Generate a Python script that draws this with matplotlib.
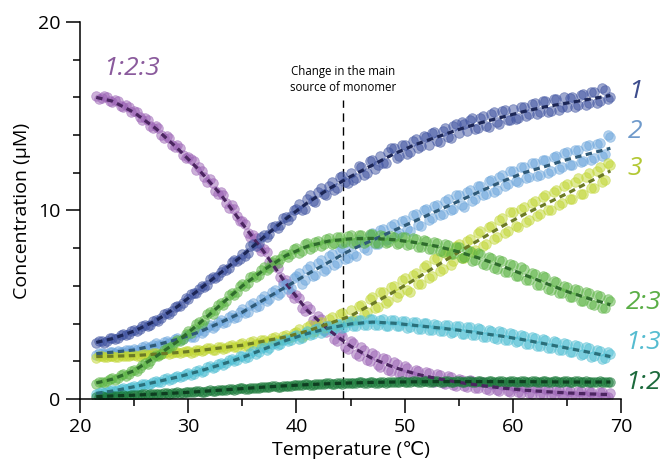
import numpy as np
import matplotlib.pyplot as plt

plt.rcParams['font.family'] = ['Open Sans', 'DejaVu Sans']

# measured temperatures (degC): two interleaved reading sets
temp_a = np.arange(21.5, 69.01, 0.5)
temp_b = np.arange(21.75, 68.8, 0.5)

conc_1a = [2.95, 3.1, 3.05, 3.25, 3.25, 3.45, 3.45,
           3.65, 3.7, 3.9, 3.95, 4.2, 4.3, 4.55, 4.65, 4.95, 5.1,
           5.3, 5.6, 5.85, 5.95, 6.35, 6.4, 6.75, 6.85, 7.25, 7.3,
           7.7, 7.75, 8.2, 8.3, 8.7, 8.75, 9.2, 9.25, 9.65, 9.7,
           10.1, 10.0, 10.6, 10.5, 11.0, 10.85, 11.3, 11.1, 11.75, 11.5,
           12.0, 11.7, 12.3, 12.0, 12.7, 12.4, 12.5, 13.1, 13.3, 12.9,
           13.5, 13.1, 13.8, 13.4, 13.9, 14.1, 13.7, 14.2, 13.9, 14.5,
           14.1, 14.6, 14.8, 14.3, 14.9, 14.5, 15.1, 14.7, 15.3, 14.8,
           15.4, 14.9, 15.5, 15.1, 15.7, 15.2, 15.8, 15.3, 15.9, 15.5,
           15.5, 16.0, 15.6, 16.2, 15.7, 16.3, 15.8, 16.4, 16.0]
conc_2a = [2.35, 2.45, 2.4, 2.5, 2.55, 2.5, 2.6,
           2.65, 2.6, 2.8, 2.75, 2.95, 2.85, 3.1, 3.0, 3.25, 3.2,
           3.4, 3.3, 3.65, 3.6, 3.9, 3.85, 4.2, 4.1, 4.45, 4.35,
           4.75, 4.6, 5.1, 4.95, 5.45, 5.3, 5.8, 5.6, 6.1, 5.9,
           6.5, 6.1, 6.9, 6.5, 7.2, 6.8, 7.6, 7.1, 7.9, 7.4,
           8.2, 7.6, 8.4, 7.9, 8.8, 8.2, 9.0, 8.5, 9.3, 8.8,
           9.5, 8.9, 9.8, 9.2, 10.1, 9.6, 10.3, 9.8, 10.6, 10.1,
           10.8, 10.2, 11.1, 10.6, 11.3, 10.9, 11.6, 11.1, 11.9, 11.4,
           12.1, 11.5, 12.3, 11.8, 12.5, 11.9, 12.7, 12.1, 12.9, 12.3,
           13.1, 12.4, 13.2, 12.6, 13.5, 12.8, 13.6, 13.0, 13.9]
conc_3a = [2.2, 2.3, 2.25, 2.3, 2.25, 2.3, 2.28,
           2.35, 2.3, 2.4, 2.35, 2.45, 2.4, 2.5, 2.42, 2.5, 2.48,
           2.55, 2.48, 2.62, 2.58, 2.7, 2.62, 2.78, 2.7, 2.85, 2.78,
           2.95, 2.8, 3.05, 2.95, 3.15, 3.05, 3.3, 3.15, 3.4, 3.3,
           3.55, 3.3, 3.8, 3.55, 4.0, 3.75, 4.25, 3.9, 4.5, 4.1,
           4.7, 4.2, 5.0, 4.6, 5.4, 4.9, 5.7, 5.2, 6.0, 5.6,
           6.4, 5.7, 6.7, 6.1, 7.1, 6.5, 7.5, 6.9, 7.8, 7.3,
           8.2, 7.5, 8.5, 7.9, 8.9, 8.2, 9.2, 8.6, 9.6, 8.9,
           9.9, 9.1, 10.2, 9.5, 10.5, 9.8, 10.8, 10.0, 11.1, 10.4,
           11.4, 10.6, 11.7, 10.9, 12.0, 11.2, 12.3, 11.6, 12.4]
conc_23a = [0.8, 0.92, 0.95, 1.1, 1.12, 1.3, 1.35,
            1.55, 1.62, 1.9, 2.0, 2.32, 2.4, 2.72, 2.8, 3.12, 3.2,
            3.6, 3.7, 4.1, 4.2, 4.6, 4.7, 5.1, 5.2, 5.6, 5.7,
            6.1, 6.15, 6.55, 6.6, 7.0, 6.95, 7.35, 7.4, 7.7, 7.7,
            8.0, 7.85, 8.25, 8.05, 8.4, 8.2, 8.55, 8.3, 8.6, 8.35,
            8.7, 8.35, 8.7, 8.4, 8.75, 8.3, 8.65, 8.35, 8.6, 8.3,
            8.6, 8.2, 8.5, 8.05, 8.4, 7.95, 8.3, 7.8, 8.15, 7.7,
            8.05, 7.55, 7.85, 7.35, 7.7, 7.1, 7.5, 6.9, 7.3, 6.75,
            7.1, 6.55, 6.9, 6.3, 6.65, 6.05, 6.45, 5.8, 6.2, 5.6,
            5.95, 5.4, 5.8, 5.2, 5.6, 5.0, 5.45, 4.85, 5.2]
conc_13a = [0.28, 0.36, 0.35, 0.45, 0.45, 0.56, 0.57,
            0.68, 0.7, 0.82, 0.8, 0.95, 0.92, 1.1, 1.05, 1.22, 1.2,
            1.38, 1.3, 1.55, 1.5, 1.75, 1.68, 1.9, 1.9, 2.1, 2.05,
            2.3, 2.25, 2.52, 2.48, 2.75, 2.7, 2.97, 2.92, 3.2, 3.12,
            3.42, 3.25, 3.58, 3.45, 3.75, 3.58, 3.88, 3.7, 4.0, 3.82,
            4.15, 3.85, 4.2, 3.9, 4.25, 3.92, 4.22, 3.88, 4.18, 3.85,
            4.12, 3.8, 4.08, 3.72, 4.02, 3.68, 3.95, 3.6, 3.9, 3.55,
            3.85, 3.45, 3.8, 3.38, 3.7, 3.3, 3.62, 3.2, 3.55, 3.12,
            3.45, 3.05, 3.35, 2.92, 3.25, 2.8, 3.15, 2.7, 3.02, 2.6,
            2.9, 2.5, 2.8, 2.38, 2.7, 2.28, 2.55, 2.15, 2.4]
conc_12a = [0.1, 0.14, 0.12, 0.16, 0.15, 0.19, 0.18,
            0.21, 0.2, 0.25, 0.24, 0.29, 0.27, 0.31, 0.3, 0.35, 0.33,
            0.37, 0.35, 0.41, 0.39, 0.45, 0.43, 0.49, 0.47, 0.53, 0.51,
            0.57, 0.54, 0.6, 0.58, 0.64, 0.61, 0.68, 0.65, 0.71, 0.69,
            0.75, 0.72, 0.77, 0.75, 0.8, 0.77, 0.83, 0.8, 0.85, 0.83,
            0.87, 0.84, 0.89, 0.86, 0.9, 0.87, 0.91, 0.88, 0.92, 0.89,
            0.92, 0.88, 0.93, 0.89, 0.94, 0.9, 0.94, 0.9, 0.94, 0.91,
            0.94, 0.9, 0.95, 0.9, 0.94, 0.91, 0.95, 0.9, 0.94, 0.91,
            0.94, 0.9, 0.95, 0.9, 0.94, 0.89, 0.94, 0.9, 0.93, 0.89,
            0.93, 0.88, 0.93, 0.89, 0.92, 0.88, 0.93, 0.88, 0.91]
conc_123a = [16.05, 15.95, 16.0, 15.75, 15.8, 15.5, 15.5,
             15.3, 14.95, 14.9, 14.5, 14.5, 14.0, 13.95, 13.5, 13.45, 12.95,
             12.85, 12.6, 12.3, 11.75, 11.65, 11.05, 11.0, 10.4, 10.3, 9.7,
             9.45, 8.8, 8.7, 8.05, 7.95, 7.25, 7.15, 6.45, 6.3, 5.6,
             5.5, 4.8, 4.95, 4.2, 4.4, 3.65, 3.9, 3.2, 3.45, 2.75,
             3.1, 2.4, 2.75, 2.05, 2.45, 1.8, 2.2, 1.55, 1.95, 1.4,
             1.75, 1.25, 1.55, 1.05, 1.45, 0.95, 1.3, 0.85, 1.2, 0.75,
             1.05, 0.7, 0.98, 0.6, 0.9, 0.52, 0.82, 0.45, 0.75, 0.4,
             0.7, 0.35, 0.62, 0.3, 0.58, 0.25, 0.55, 0.22, 0.5, 0.2,
             0.45, 0.18, 0.42, 0.15, 0.4, 0.12, 0.38, 0.12, 0.3]

# set B
conc_1b = [3.1, 2.98, 3.22, 3.18, 3.42, 3.38, 3.62,
           3.58, 3.88, 3.85, 4.15, 4.12, 4.5, 4.52, 4.9, 4.92, 5.35,
           5.55, 5.6, 6.0, 6.05, 6.45, 6.5, 6.9, 6.95, 7.35, 7.4,
           7.6, 8.1, 8.1, 8.6, 8.6, 9.1, 9.05, 9.6, 9.5, 10.05,
           10.35, 10.1, 10.8, 10.45, 11.2, 10.8, 11.5, 11.2, 11.85, 11.45,
           11.6, 12.35, 11.9, 12.6, 12.2, 12.9, 12.5, 13.3, 12.8, 13.5,
           13.0, 13.7, 13.3, 13.95, 13.5, 14.15, 13.65, 14.4, 13.85, 14.6,
           14.7, 14.2, 14.9, 14.35, 15.0, 14.45, 15.2, 14.6, 15.35, 14.8,
           14.85, 15.5, 15.0, 15.65, 15.1, 15.8, 15.25, 15.9, 15.35, 16.0,
           15.95, 15.5, 16.15, 15.6, 16.3, 15.7, 16.5, 15.9]
conc_2b = [2.46, 2.38, 2.5, 2.44, 2.48, 2.6, 2.55,
           2.58, 2.74, 2.7, 2.88, 2.84, 3.02, 2.98, 3.18, 3.14, 3.33,
           3.28, 3.56, 3.52, 3.82, 3.78, 4.08, 4.04, 4.35, 4.3, 4.62,
           4.55, 4.98, 4.9, 5.32, 5.2, 5.7, 5.52, 6.05, 5.85, 6.42,
           6.7, 6.3, 7.05, 6.6, 7.35, 6.9, 7.7, 7.2, 8.0, 7.5,
           7.7, 8.45, 8.0, 8.7, 8.2, 8.95, 8.45, 9.2, 8.7, 9.45,
           9.0, 9.75, 9.25, 10.0, 9.5, 10.25, 9.75, 10.5, 10.0, 10.8,
           10.3, 11.0, 10.5, 11.3, 10.8, 11.55, 11.0, 11.8, 11.3, 12.1,
           11.55, 12.3, 11.7, 12.5, 11.85, 12.7, 12.0, 12.85, 12.2, 13.05,
           12.4, 13.2, 12.55, 13.4, 12.7, 13.55, 12.9, 14.0]
conc_3b = [2.3, 2.22, 2.28, 2.24, 2.32, 2.26, 2.32,
           2.27, 2.37, 2.31, 2.42, 2.35, 2.46, 2.4, 2.5, 2.44, 2.55,
           2.46, 2.6, 2.53, 2.68, 2.6, 2.75, 2.67, 2.82, 2.74, 2.9,
           2.82, 3.0, 2.92, 3.12, 3.02, 3.25, 3.12, 3.36, 3.22, 3.5,
           3.7, 3.4, 3.9, 3.6, 4.1, 3.8, 4.35, 3.95, 4.55, 4.15,
           4.2, 4.95, 4.5, 5.3, 4.8, 5.65, 5.1, 5.95, 5.4, 6.3,
           5.8, 6.6, 6.1, 7.0, 6.4, 7.4, 6.8, 7.75, 7.1, 8.1,
           7.5, 8.4, 7.8, 8.8, 8.1, 9.1, 8.5, 9.5, 8.8, 9.9,
           9.2, 10.1, 9.4, 10.4, 9.7, 10.7, 10.0, 11.0, 10.3, 11.3,
           10.6, 11.5, 10.9, 11.8, 11.2, 12.1, 11.5, 12.5]
conc_23b = [0.9, 0.86, 1.05, 1.02, 1.25, 1.22, 1.5,
            1.5, 1.82, 1.88, 2.22, 2.28, 2.62, 2.68, 3.02, 3.05, 3.45,
            3.5, 3.98, 4.0, 4.5, 4.5, 5.0, 5.0, 5.5, 5.5, 6.0,
            6.0, 6.45, 6.45, 6.85, 6.85, 7.25, 7.2, 7.65, 7.55, 7.95,
            7.75, 8.2, 7.95, 8.35, 8.1, 8.5, 8.2, 8.6, 8.25, 8.65,
            8.3, 8.72, 8.3, 8.75, 8.3, 8.7, 8.25, 8.65, 8.2, 8.6,
            8.15, 8.55, 8.05, 8.45, 7.95, 8.35, 7.85, 8.2, 7.7, 8.05,
            7.5, 7.9, 7.3, 7.75, 7.15, 7.55, 6.95, 7.35, 6.75, 7.15,
            6.5, 7.0, 6.3, 6.7, 6.05, 6.5, 5.85, 6.25, 5.6, 6.0,
            5.4, 5.85, 5.2, 5.65, 5.05, 5.5, 4.85, 5.3]
conc_13b = [0.34, 0.31, 0.42, 0.4, 0.53, 0.52, 0.65,
            0.64, 0.78, 0.76, 0.92, 0.88, 1.04, 1.02, 1.18, 1.15, 1.32,
            1.28, 1.5, 1.45, 1.68, 1.62, 1.85, 1.82, 2.05, 2.0, 2.3,
            2.18, 2.44, 2.4, 2.68, 2.62, 2.9, 2.85, 3.12, 3.05, 3.35,
            3.2, 3.52, 3.38, 3.7, 3.52, 3.85, 3.65, 3.98, 3.75, 4.1,
            3.85, 4.18, 3.9, 4.22, 3.92, 4.2, 3.88, 4.2, 3.85, 4.12,
            3.78, 4.1, 3.72, 4.05, 3.66, 3.98, 3.6, 3.92, 3.52, 3.85,
            3.45, 3.82, 3.38, 3.75, 3.3, 3.68, 3.22, 3.6, 3.12, 3.5,
            3.02, 3.4, 2.9, 3.3, 2.8, 3.2, 2.7, 3.08, 2.6, 2.95,
            2.48, 2.88, 2.35, 2.78, 2.25, 2.62, 2.12, 2.5]
conc_12b = [0.13, 0.11, 0.15, 0.14, 0.18, 0.16, 0.2,
            0.2, 0.24, 0.22, 0.28, 0.26, 0.31, 0.29, 0.34, 0.32, 0.37,
            0.36, 0.4, 0.38, 0.44, 0.42, 0.48, 0.46, 0.52, 0.5, 0.56,
            0.55, 0.6, 0.58, 0.64, 0.62, 0.67, 0.65, 0.71, 0.68, 0.74,
            0.72, 0.77, 0.74, 0.8, 0.77, 0.83, 0.8, 0.86, 0.82, 0.87,
            0.84, 0.89, 0.85, 0.9, 0.86, 0.91, 0.87, 0.92, 0.88, 0.93,
            0.89, 0.94, 0.89, 0.94, 0.9, 0.95, 0.9, 0.95, 0.9, 0.95,
            0.9, 0.95, 0.9, 0.95, 0.91, 0.95, 0.9, 0.95, 0.9, 0.95,
            0.9, 0.95, 0.9, 0.94, 0.9, 0.94, 0.89, 0.94, 0.89, 0.94,
            0.88, 0.93, 0.88, 0.93, 0.88, 0.92, 0.88, 0.92]
conc_123b = [15.9, 16.05, 15.8, 15.85, 15.55, 15.6, 15.2,
             15.2, 14.8, 14.8, 14.35, 14.35, 13.85, 13.85, 13.35, 13.3, 12.8,
             12.75, 12.15, 12.1, 11.5, 11.45, 10.85, 10.8, 10.15, 10.1, 9.45,
             9.3, 8.6, 8.55, 7.85, 7.8, 7.05, 6.95, 6.2, 6.1, 5.35,
             5.35, 4.65, 4.75, 4.05, 4.25, 3.55, 3.75, 3.1, 3.35, 2.65,
             2.95, 2.3, 2.6, 2.0, 2.35, 1.7, 2.1, 1.5, 1.85, 1.35,
             1.65, 1.2, 1.5, 1.0, 1.4, 0.9, 1.25, 0.8, 1.15, 0.7,
             1.02, 0.65, 0.95, 0.56, 0.88, 0.5, 0.8, 0.42, 0.72, 0.38,
             0.66, 0.33, 0.6, 0.28, 0.56, 0.24, 0.52, 0.2, 0.48, 0.18,
             0.44, 0.16, 0.4, 0.14, 0.38, 0.12, 0.36, 0.1]

# fitted curves (dashed lines)
temp_fit = [21.5, 23, 25, 27, 29, 31, 33, 35, 37, 39, 41, 43, 45,
            47, 49, 51, 53, 55, 57, 59, 61, 63, 65, 67, 69]
fit_1 = [3.0, 3.2, 3.6, 4.15, 4.9, 5.8, 6.7, 7.6, 8.6, 9.55, 10.4, 11.15, 11.8,
         12.4, 13.0, 13.5, 13.9, 14.3, 14.65, 14.95, 15.25, 15.5, 15.7, 15.9, 16.1]
fit_2 = [2.4, 2.48, 2.6, 2.86, 3.16, 3.55, 4.06, 4.6, 5.27, 5.94, 6.62, 7.26, 7.9,
         8.42, 8.94, 9.46, 9.98, 10.5, 11.02, 11.54, 12.0, 12.34, 12.7, 13.0, 13.3]
fit_3 = [2.25, 2.27, 2.3, 2.38, 2.46, 2.57, 2.71, 2.85, 3.07, 3.29, 3.6, 4.0, 4.4,
         5.04, 5.68, 6.36, 7.08, 7.8, 8.48, 9.16, 9.78, 10.34, 10.9, 11.5, 12.1]
fit_23 = [0.85, 1.05, 1.5, 2.25, 3.05, 4.0, 5.0, 6.0, 6.85, 7.6, 8.1, 8.38, 8.5,
          8.52, 8.45, 8.3, 8.1, 7.8, 7.45, 7.05, 6.6, 6.15, 5.7, 5.33, 5.0]
fit_13 = [0.3, 0.42, 0.65, 0.9, 1.16, 1.47, 1.82, 2.2, 2.65, 3.1, 3.47, 3.76, 3.98,
          4.08, 4.02, 3.9, 3.78, 3.65, 3.49, 3.33, 3.14, 2.92, 2.7, 2.48, 2.25]
fit_12 = [0.12, 0.16, 0.2, 0.26, 0.32, 0.39, 0.47, 0.55, 0.63, 0.7, 0.76, 0.81, 0.85,
          0.88, 0.9, 0.91, 0.92, 0.92, 0.92, 0.92, 0.92, 0.91, 0.9, 0.9, 0.9]
fit_123 = [16.0, 15.8, 15.2, 14.35, 13.3, 12.15, 10.85, 9.3, 7.8, 6.15, 4.7, 3.65, 2.8,
           2.15, 1.68, 1.33, 1.08, 0.88, 0.72, 0.58, 0.47, 0.39, 0.32, 0.27, 0.23]

labels = ['1:2:3', '1', '2', '3', '2:3', '1:3', '1:2']
point_colors = ['#9b62b5', '#3e52a0', '#6aa5dc', '#c0d630', '#5cb544', '#4fbfd4', '#1b7a3a']
line_colors = ['#4b2560', '#1c2656', '#2f5a78', '#6b7a25', '#2e6b2c', '#2a6f7a', '#0e3d20']
label_colors = ['#8a5a9c', '#3c4c8c', '#6f9acb', '#b3c834', '#5aae46', '#56bcd0', '#1c6a3c']
label_pos = [(22.1, 17.55), (70.6, 16.3), (70.6, 14.2), (70.6, 12.25),
             (70.4, 5.1), (70.4, 2.97), (70.4, 0.85)]

points_a = [conc_123a, conc_1a, conc_2a, conc_3a, conc_23a, conc_13a, conc_12a]
points_b = [conc_123b, conc_1b, conc_2b, conc_3b, conc_23b, conc_13b, conc_12b]
fits = [fit_123, fit_1, fit_2, fit_3, fit_23, fit_13, fit_12]

fig = plt.figure(figsize=(6.6, 4.65), dpi=100)
ax = fig.add_axes([0.1212, 0.142, 0.82, 0.8107])

for i in range(len(labels)):
    for t, c in [(temp_a, points_a[i]), (temp_b, points_b[i])]:
        ax.scatter(t, c, s=48, color=point_colors[i], alpha=0.5,
                   edgecolors=point_colors[i], linewidths=0.6, zorder=2)

for i in range(len(labels)):
    ax.plot(temp_fit, fits[i], color=line_colors[i], lw=2.3,
            linestyle=(0, (2.0, 1.4)), zorder=3)
    ax.text(label_pos[i][0], label_pos[i][1], labels[i], color=label_colors[i],
            fontsize=19, style='italic', va='center', ha='left', clip_on=False)

# transition marker
ax.plot([44.3, 44.3], [0, 15.85], color='black', lw=1, linestyle=(0, (6, 4)), zorder=1)
ax.text(44.3, 16.95, 'Change in the main\nsource of monomer', fontsize=8.3,
        ha='center', va='center', linespacing=1.25)

ax.set_xlim(20, 70)
ax.set_ylim(0, 20)
ax.set_xticks([20, 30, 40, 50, 60, 70])
ax.set_xticks([25, 35, 45, 55, 65], minor=True)
ax.set_yticks([0, 10, 20])
ax.set_yticks([2, 4, 6, 8, 12, 14, 16, 18], minor=True)
ax.tick_params(which='major', direction='out', length=10, width=1.1, labelsize=14, pad=4)
ax.tick_params(which='minor', direction='out', length=5, width=1.1)
for side in ['top', 'right']:
    ax.spines[side].set_visible(False)
for side in ['left', 'bottom']:
    ax.spines[side].set_linewidth(1.1)

ax.set_xlabel('Temperature (\u2103)', fontsize=14, labelpad=3)
ax.set_ylabel('Concentration (\u00b5M)', fontsize=14, labelpad=5)

fig.savefig('out.png', dpi=100)
